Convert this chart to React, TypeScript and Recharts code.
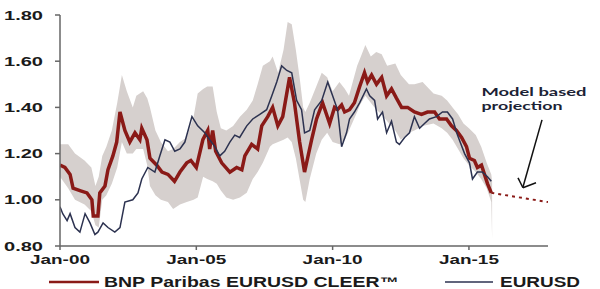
import React from 'react';
import {
  ComposedChart, Area, Line, XAxis, YAxis, Legend, ReferenceLine, ReferenceDot,
} from 'recharts';

// years since Jan-2000
const xTicks = [0, 5, 10, 15];
const xTickLabels = ['Jan-00', 'Jan-05', 'Jan-10', 'Jan-15'];
const yTicks = [0.8, 1.0, 1.2, 1.4, 1.6, 1.8];

const cleerT = [0, 0.18, 0.37, 0.48, 0.73, 0.99, 1.17, 1.22, 1.39, 1.46, 1.65, 1.76, 1.94, 2.08, 2.2, 2.38, 2.56, 2.75, 2.93, 3.0, 3.19, 3.3, 3.55, 3.74, 3.96, 4.2, 4.4, 4.65, 4.8, 5.0, 5.24, 5.42, 5.49, 5.6, 5.71, 5.93, 6.23, 6.48, 6.67, 6.78, 7.03, 7.25, 7.4, 7.62, 7.8, 7.99, 8.17, 8.42, 8.6, 8.79, 8.97, 9.23, 9.41, 9.63, 9.89, 10.07, 10.18, 10.33, 10.44, 10.62, 10.8, 10.99, 11.17, 11.28, 11.43, 11.61, 11.8, 11.98, 12.16, 12.34, 12.53, 12.75, 13.0, 13.26, 13.48, 13.74, 13.92, 14.18, 14.36, 14.54, 14.73, 14.91, 15.02, 15.2, 15.31, 15.46, 15.57, 15.68, 15.82];
const cleerV = [1.15, 1.14, 1.11, 1.05, 1.04, 1.03, 1.0, 0.93, 0.93, 1.03, 1.06, 1.13, 1.19, 1.25, 1.38, 1.30, 1.25, 1.29, 1.26, 1.31, 1.26, 1.18, 1.15, 1.12, 1.11, 1.08, 1.12, 1.16, 1.17, 1.14, 1.26, 1.30, 1.22, 1.30, 1.21, 1.16, 1.12, 1.14, 1.13, 1.19, 1.24, 1.22, 1.32, 1.36, 1.40, 1.32, 1.36, 1.53, 1.42, 1.25, 1.12, 1.26, 1.35, 1.42, 1.33, 1.40, 1.39, 1.41, 1.38, 1.39, 1.42, 1.49, 1.55, 1.51, 1.54, 1.50, 1.53, 1.45, 1.48, 1.44, 1.40, 1.40, 1.38, 1.37, 1.38, 1.38, 1.35, 1.35, 1.32, 1.30, 1.27, 1.23, 1.18, 1.17, 1.14, 1.15, 1.11, 1.07, 1.03];

const fxT = [0, 0.1, 0.26, 0.37, 0.55, 0.73, 0.92, 1.1, 1.28, 1.39, 1.58, 1.76, 2.01, 2.2, 2.38, 2.67, 2.86, 3.0, 3.22, 3.48, 3.66, 3.85, 4.03, 4.21, 4.4, 4.58, 4.84, 5.05, 5.31, 5.49, 5.68, 5.86, 6.04, 6.23, 6.41, 6.59, 6.85, 7.07, 7.33, 7.58, 7.77, 7.95, 8.13, 8.32, 8.5, 8.68, 8.86, 8.97, 9.16, 9.34, 9.6, 9.82, 10.0, 10.18, 10.33, 10.51, 10.62, 10.8, 10.99, 11.24, 11.36, 11.54, 11.65, 11.83, 11.98, 12.16, 12.34, 12.45, 12.64, 12.82, 13.0, 13.19, 13.37, 13.55, 13.81, 14.03, 14.21, 14.4, 14.58, 14.84, 15.02, 15.13, 15.31, 15.49, 15.68, 15.82];
const fxV = [0.97, 0.94, 0.91, 0.94, 0.88, 0.86, 0.94, 0.90, 0.85, 0.86, 0.90, 0.88, 0.86, 0.88, 0.99, 1.00, 1.03, 1.09, 1.14, 1.12, 1.19, 1.26, 1.25, 1.21, 1.22, 1.25, 1.36, 1.32, 1.29, 1.26, 1.23, 1.19, 1.21, 1.25, 1.28, 1.27, 1.32, 1.35, 1.37, 1.39, 1.45, 1.51, 1.58, 1.56, 1.55, 1.43, 1.39, 1.29, 1.30, 1.39, 1.43, 1.51, 1.45, 1.39, 1.23, 1.29, 1.35, 1.38, 1.42, 1.48, 1.45, 1.43, 1.35, 1.38, 1.29, 1.34, 1.25, 1.24, 1.27, 1.29, 1.36, 1.31, 1.33, 1.35, 1.36, 1.38, 1.38, 1.35, 1.28, 1.20, 1.16, 1.09, 1.12, 1.12, 1.10, 1.08];

const bandT = [0, 0.3, 0.55, 0.9, 1.15, 1.3, 1.42, 1.55, 1.7, 1.9, 2.1, 2.27, 2.45, 2.67, 2.8, 3.05, 3.2, 3.3, 3.5, 3.7, 3.96, 4.15, 4.4, 4.65, 4.9, 5.05, 5.25, 5.4, 5.6, 5.75, 5.9, 6.1, 6.35, 6.6, 6.85, 7.07, 7.25, 7.44, 7.7, 7.8, 8.0, 8.2, 8.35, 8.5, 8.65, 8.8, 8.92, 9.0, 9.16, 9.4, 9.6, 9.8, 10.0, 10.25, 10.45, 10.6, 10.9, 11.0, 11.2, 11.4, 11.6, 11.8, 12.0, 12.3, 12.5, 12.8, 13.0, 13.3, 13.7, 14.0, 14.2, 14.4, 14.6, 14.8, 15.0, 15.25, 15.45, 15.65, 15.82, 15.85];
const bandLow = [1.10, 1.05, 1.00, 0.98, 0.95, 0.89, 0.88, 1.00, 1.02, 1.07, 1.14, 1.25, 1.20, 1.20, 1.22, 1.22, 1.15, 1.06, 1.02, 1.00, 0.99, 0.96, 0.98, 0.99, 1.00, 1.01, 1.10, 1.09, 1.08, 1.07, 1.04, 1.01, 1.00, 1.01, 1.03, 1.09, 1.12, 1.16, 1.23, 1.24, 1.25, 1.26, 1.27, 1.25, 1.18, 1.08, 1.00, 0.99, 1.09, 1.20, 1.26, 1.29, 1.25, 1.24, 1.26, 1.30, 1.38, 1.41, 1.45, 1.42, 1.39, 1.37, 1.34, 1.30, 1.26, 1.29, 1.30, 1.32, 1.33, 1.31, 1.29, 1.26, 1.22, 1.18, 1.15, 1.12, 1.09, 1.05, 0.99, 0.83];
const bandHigh = [1.24, 1.24, 1.20, 1.17, 1.14, 1.06, 1.10, 1.19, 1.23, 1.30, 1.42, 1.54, 1.47, 1.40, 1.45, 1.47, 1.44, 1.40, 1.30, 1.25, 1.21, 1.22, 1.25, 1.27, 1.36, 1.46, 1.48, 1.49, 1.49, 1.38, 1.31, 1.30, 1.32, 1.36, 1.39, 1.43, 1.50, 1.58, 1.60, 1.62, 1.55, 1.65, 1.77, 1.76, 1.65, 1.52, 1.40, 1.38, 1.42, 1.49, 1.55, 1.53, 1.47, 1.51, 1.48, 1.45, 1.58, 1.61, 1.67, 1.62, 1.64, 1.63, 1.58, 1.59, 1.54, 1.50, 1.50, 1.51, 1.46, 1.45, 1.43, 1.40, 1.37, 1.33, 1.31, 1.28, 1.23, 1.16, 1.11, 1.08];

const projT = [15.82, 17.9];
const projV = [1.03, 0.99];

const cleerData = cleerT.map((t, i) => ({ t, v: cleerV[i] }));
const fxData = fxT.map((t, i) => ({ t, v: fxV[i] }));
const bandData = bandT.map((t, i) => ({ t, range: [bandLow[i], bandHigh[i]] }));
const projData = projT.map((t, i) => ({ t, v: projV[i] }));

const RED = '#8a1a17';
const NAVY = '#2c3250';
const GREY = '#d6d0ce';
const AXIS = '#666';
const FONT = '"Liberation Sans", Arial, sans-serif';

const YTick = (props: any) => {
  const { x, y, payload } = props;
  return (
    <text x={x} y={y} textAnchor="end" dominantBaseline="central" fontFamily={FONT} fontWeight="bold"
      fontSize={13} fill="#1a1a1a" textLength={39} lengthAdjust="spacingAndGlyphs">
      {Number(payload.value).toFixed(2)}
    </text>
  );
};

const XTick = (props: any) => {
  const { x, y, payload } = props;
  const idx = xTicks.indexOf(payload.value);
  return (
    <text x={x} y={y} dy="0.71em" textAnchor="middle" fontFamily={FONT} fontWeight="bold"
      fontSize={13} fill="#1a1a1a" textLength={60} lengthAdjust="spacingAndGlyphs">
      {xTickLabels[idx]}
    </text>
  );
};

const LegendContent = () => (
  <div style={{ width: 600, height: 18 }}>
    <svg width={600} height={18} style={{ display: 'block' }}>
      <line x1={49} x2={99} y1={11} y2={11} stroke={RED} strokeWidth={2.5} />
      <text x={104} y={11} dominantBaseline="central" fontFamily={FONT} fontWeight="bold" fontSize={14}
        fill="#1a1a1a" textLength={295} lengthAdjust="spacingAndGlyphs">BNP Paribas EURUSD CLEER™</text>
      <line x1={445} x2={493} y1={11} y2={11} stroke={NAVY} strokeWidth={1.5} />
      <text x={500} y={11} dominantBaseline="central" fontFamily={FONT} fontWeight="bold" fontSize={14}
        fill="#1a1a1a" textLength={80} lengthAdjust="spacingAndGlyphs">EURUSD</text>
    </svg>
  </div>
);

const NoteLabel = (props: any) => {
  const { viewBox } = props;
  const x = viewBox.x;
  const y = viewBox.y;
  return (
    <g>
      <text x={x} y={y - 1} fontFamily="Lato, sans-serif" fontWeight="bold" fontSize={11.5} fill="#1b2235"
        textLength={105} lengthAdjust="spacingAndGlyphs">Model based</text>
      <text x={x} y={y + 13} fontFamily="Lato, sans-serif" fontWeight="bold" fontSize={11.5} fill="#1b2235"
        textLength={81} lengthAdjust="spacingAndGlyphs">projection</text>
    </g>
  );
};

export default function App() {
  return (
    <div style={{ position: 'absolute', left: 0, top: 0, background: '#fff' }}>
      <ComposedChart width={600} height={289} margin={{ top: 15, right: 52, bottom: 0, left: 0 }}>
        <XAxis dataKey="t" type="number" domain={[0, 17.9]} ticks={xTicks} allowDataOverflow
          tick={<XTick />} tickSize={4} tickMargin={5} height={25}
          axisLine={{ stroke: AXIS, strokeWidth: 1.5 }} tickLine={{ stroke: AXIS, strokeWidth: 1.5 }} />
        <YAxis type="number" domain={[0.8, 1.8]} ticks={yTicks} allowDataOverflow width={60}
          tick={<YTick />} tickSize={5} tickMargin={12}
          axisLine={{ stroke: AXIS, strokeWidth: 1.5 }} tickLine={{ stroke: AXIS, strokeWidth: 1.5 }} />
        <Area data={bandData} dataKey="range" type="linear" stroke="none" fill={GREY} fillOpacity={1}
          isAnimationActive={false} />
        <Line data={cleerData} dataKey="v" type="linear" stroke={RED} strokeWidth={3.5} dot={false}
          isAnimationActive={false} />
        <Line data={fxData} dataKey="v" type="linear" stroke={NAVY} strokeWidth={1.5} dot={false}
          isAnimationActive={false} />
        <Line data={projData} dataKey="v" type="linear" stroke={RED} strokeWidth={2} strokeDasharray="3 4"
          dot={false} isAnimationActive={false} />
        <ReferenceLine segment={[{ x: 17.68, y: 1.346 }, { x: 16.98, y: 1.054 }]} stroke="#111" strokeWidth={1.5} />
        <ReferenceLine segment={[{ x: 16.80, y: 1.095 }, { x: 16.98, y: 1.052 }]} stroke="#111" strokeWidth={1.5} />
        <ReferenceLine segment={[{ x: 17.46, y: 1.074 }, { x: 16.98, y: 1.052 }]} stroke="#111" strokeWidth={1.5} />
        <ReferenceDot x={15.46} y={1.446} r={0.01} fill="none" stroke="none" label={<NoteLabel />} />
        <Legend content={<LegendContent />} wrapperStyle={{ left: 0, bottom: 0, width: 600 }} />
      </ComposedChart>
    </div>
  );
}
